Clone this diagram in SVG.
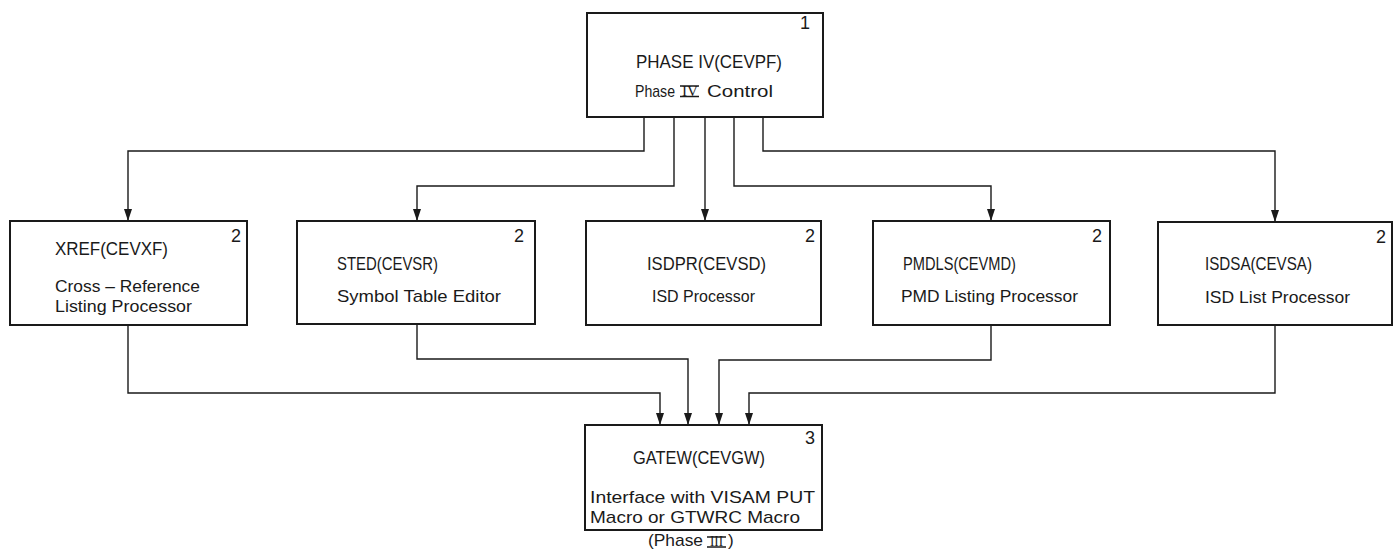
<svg xmlns="http://www.w3.org/2000/svg" width="1395" height="550" viewBox="0 0 1395 550">
  <style>
    .box { fill: #ffffff; stroke: #1a1a1a; stroke-width: 2; }
    .lbl { font-family: "Liberation Sans", Arial, sans-serif; font-size: 18px; fill: #1a1a1a; }
    .sm { font-size: 17px; }
    .num { font-family: "Liberation Sans", Arial, sans-serif; font-size: 18px; fill: #1a1a1a; }
    .rom { font-family: "Liberation Serif", "Times New Roman", serif; font-size: 14px; fill: #1a1a1a; }
    .bar { stroke: #1a1a1a; stroke-width: 1.5; }
    .wire { fill: none; stroke: #1a1a1a; stroke-width: 1.4; }
  </style>
  <defs>
    <marker id="arrow" viewBox="0 0 12 8" refX="12" refY="4" markerWidth="12" markerHeight="8" markerUnits="userSpaceOnUse" orient="auto">
      <path d="M0,0 L12,4 L0,8 z" fill="#1a1a1a"/>
    </marker>
  </defs>
  <rect width="1395" height="550" fill="#ffffff"/>

  <!-- connectors -->
  <g id="connectors">
    <polyline class="wire" points="644,117 644,151 128,151 128,221" marker-end="url(#arrow)"/>
    <polyline class="wire" points="674,117 674,186 417,186 417,221" marker-end="url(#arrow)"/>
    <polyline class="wire" points="705,117 705,221" marker-end="url(#arrow)"/>
    <polyline class="wire" points="734,117 734,186 991,186 991,221" marker-end="url(#arrow)"/>
    <polyline class="wire" points="763,117 763,151 1275,151 1275,222" marker-end="url(#arrow)"/>
    <polyline class="wire" points="128,325 128,393 660,393 660,425" marker-end="url(#arrow)"/>
    <polyline class="wire" points="417,324 417,359 688,359 688,425" marker-end="url(#arrow)"/>
    <polyline class="wire" points="991,325 991,360 719,360 719,425" marker-end="url(#arrow)"/>
    <polyline class="wire" points="1275,325 1275,393 749,393 749,425" marker-end="url(#arrow)"/>
  </g>

  <!-- level 1 -->
  <g id="cevpf">
    <rect class="box" x="587" y="13" width="236" height="104"/>
    <text class="num" x="810" y="29" text-anchor="end">1</text>
    <text class="lbl" x="636" y="68" textLength="146" lengthAdjust="spacingAndGlyphs">PHASE IV(CEVPF)</text>
    <text class="lbl sm" x="635" y="97" textLength="40" lengthAdjust="spacingAndGlyphs">Phase</text>
    <text class="rom" x="682" y="95.5" textLength="16" lengthAdjust="spacingAndGlyphs">IV</text>
    <line class="bar" x1="680" y1="86" x2="699" y2="86"/>
    <line class="bar" x1="680" y1="96.5" x2="699" y2="96.5"/>
    <text class="lbl sm" x="707" y="97" textLength="66" lengthAdjust="spacingAndGlyphs">Control</text>
  </g>

  <!-- level 2 -->
  <g id="cevxf">
    <rect class="box" x="10" y="221" width="237" height="104"/>
    <text class="num" x="241" y="242" text-anchor="end">2</text>
    <text class="lbl" x="55" y="255" textLength="113" lengthAdjust="spacingAndGlyphs">XREF(CEVXF)</text>
    <text class="lbl sm" x="55" y="292" textLength="145" lengthAdjust="spacingAndGlyphs">Cross – Reference</text>
    <text class="lbl sm" x="55" y="312" textLength="137" lengthAdjust="spacingAndGlyphs">Listing Processor</text>
  </g>
  <g id="cevsr">
    <rect class="box" x="297" y="221" width="238" height="103"/>
    <text class="num" x="524" y="242" text-anchor="end">2</text>
    <text class="lbl" x="337" y="270" textLength="101" lengthAdjust="spacingAndGlyphs">STED(CEVSR)</text>
    <text class="lbl sm" x="337" y="302" textLength="164" lengthAdjust="spacingAndGlyphs">Symbol Table Editor</text>
  </g>
  <g id="cevsd">
    <rect class="box" x="586" y="221" width="235" height="104"/>
    <text class="num" x="815" y="242" text-anchor="end">2</text>
    <text class="lbl" x="647" y="270" textLength="119" lengthAdjust="spacingAndGlyphs">ISDPR(CEVSD)</text>
    <text class="lbl sm" x="652" y="302" textLength="103" lengthAdjust="spacingAndGlyphs">ISD Processor</text>
  </g>
  <g id="cevmd">
    <rect class="box" x="873" y="221" width="237" height="104"/>
    <text class="num" x="1102" y="242" text-anchor="end">2</text>
    <text class="lbl" x="903" y="270" textLength="113" lengthAdjust="spacingAndGlyphs">PMDLS(CEVMD)</text>
    <text class="lbl sm" x="901" y="302" textLength="177" lengthAdjust="spacingAndGlyphs">PMD Listing Processor</text>
  </g>
  <g id="cevsa">
    <rect class="box" x="1158" y="222" width="234" height="103"/>
    <text class="num" x="1386" y="243" text-anchor="end">2</text>
    <text class="lbl" x="1205" y="270" textLength="107" lengthAdjust="spacingAndGlyphs">ISDSA(CEVSA)</text>
    <text class="lbl sm" x="1205" y="303" textLength="145" lengthAdjust="spacingAndGlyphs">ISD List Processor</text>
  </g>

  <!-- level 3 -->
  <g id="cevgw">
    <rect class="box" x="585" y="425" width="237" height="105"/>
    <text class="num" x="815" y="444" text-anchor="end">3</text>
    <text class="lbl" x="633" y="464" textLength="132" lengthAdjust="spacingAndGlyphs">GATEW(CEVGW)</text>
    <text class="lbl sm" x="590" y="503" textLength="225" lengthAdjust="spacingAndGlyphs">Interface with VISAM PUT</text>
    <text class="lbl sm" x="590" y="523" textLength="210" lengthAdjust="spacingAndGlyphs">Macro or GTWRC Macro</text>
    <text class="lbl sm" x="648" y="546" textLength="55" lengthAdjust="spacingAndGlyphs">(Phase</text>
    <text class="rom" x="710" y="546" textLength="13" lengthAdjust="spacingAndGlyphs">III</text>
    <line class="bar" x1="707" y1="537" x2="726" y2="537"/>
    <line class="bar" x1="707" y1="547" x2="726" y2="547"/>
    <text class="lbl sm" x="728" y="546">)</text>
  </g>
</svg>
